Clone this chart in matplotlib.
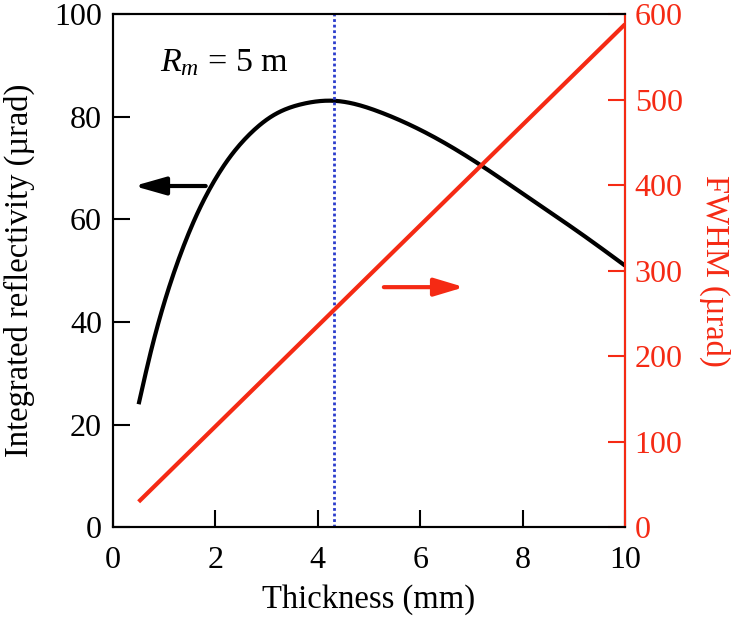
import matplotlib
matplotlib.use("Agg")
import matplotlib.pyplot as plt
import numpy as np

plt.rcParams['font.family'] = ['Liberation Serif', 'DejaVu Serif']
plt.rcParams['mathtext.fontset'] = 'custom'
plt.rcParams['mathtext.rm'] = 'Liberation Serif'
plt.rcParams['mathtext.it'] = 'Liberation Serif:italic'

# integrated reflectivity (left axis)
thick = [0.50, 0.72, 0.98, 1.31, 1.63, 1.92, 2.28, 2.67, 3.12, 3.71, 4.31,
         5.24, 6.22, 7.19, 8.15, 9.10, 10.0]
refl = [24.0, 33.5, 43.1, 53.0, 60.8, 66.5, 72.1, 76.6, 80.2, 82.5, 83.1,
        80.8, 76.3, 70.5, 64.0, 57.5, 51.0]

# FWHM (right axis)
thick_fw = [0.5, 10.0]
fwhm = [30, 588]

t_opt = 4.31
red = '#f52a14'
blue = '#2b3ccc'


def spline(x, y, xs):
    # natural cubic spline through the read points
    x = np.asarray(x, float)
    y = np.asarray(y, float)
    n = len(x)
    h = np.diff(x)
    A = np.zeros((n, n))
    b = np.zeros(n)
    A[0, 0] = A[-1, -1] = 1
    for i in range(1, n - 1):
        A[i, i - 1] = h[i - 1]
        A[i, i] = 2 * (h[i - 1] + h[i])
        A[i, i + 1] = h[i]
        b[i] = 6 * ((y[i + 1] - y[i]) / h[i] - (y[i] - y[i - 1]) / h[i - 1])
    M = np.linalg.solve(A, b)
    idx = np.clip(np.searchsorted(x, xs) - 1, 0, n - 2)
    x0, x1 = x[idx], x[idx + 1]
    hh = x1 - x0
    t0, t1 = x1 - xs, xs - x0
    return (M[idx] * t0 ** 3 / (6 * hh) + M[idx + 1] * t1 ** 3 / (6 * hh)
            + (y[idx] / hh - M[idx] * hh / 6) * t0
            + (y[idx + 1] / hh - M[idx + 1] * hh / 6) * t1)


fig = plt.figure(figsize=(7.34, 6.22), dpi=100)
ax = fig.add_axes([0.154, 0.152, 0.6975, 0.8255])
ax2 = ax.twinx()

xs = np.linspace(thick[0], thick[-1], 400)
ax.plot(xs, spline(thick, refl, xs), color='k', lw=3, solid_capstyle='butt')
ax.axvline(t_opt, color=blue, lw=2, ls=(0, (1, 1)))
ax2.plot(thick_fw, fwhm, color=red, lw=3, solid_capstyle='butt')

ax.set_xlim(0, 10)
ax.set_ylim(0, 100)
ax2.set_ylim(0, 600)
ax.set_xticks(range(0, 11, 2))
ax.set_yticks(range(0, 101, 20))
ax2.set_yticks(range(0, 601, 100))

ax.tick_params(axis='both', direction='in', length=12, width=1.5, labelsize=23)
ax.tick_params(axis='x', pad=13)
ax.tick_params(axis='y', pad=8, right=False)
ax2.tick_params(axis='y', direction='in', length=12, width=1.5, labelsize=23,
                colors=red, pad=7)

for s in ax.spines.values():
    s.set_linewidth(1.5)
for s in ax2.spines.values():
    s.set_linewidth(1.5)
ax2.spines['right'].set_color(red)

ax.set_xlabel('Thickness (mm)', fontsize=23.5, labelpad=7)
ax.set_ylabel('Integrated reflectivity (µrad)', fontsize=23.5, labelpad=14)
ax2.set_ylabel('FWHM (µrad)', fontsize=23.5, color=red, rotation=270, labelpad=34)

ax.text(0.92, 88.9, r'$R_m$ = 5 m', fontsize=24.5, va='baseline', ha='left')

ax.annotate('', xy=(0.41, 66.5), xytext=(1.81, 66.5),
            arrowprops=dict(arrowstyle='-|>,head_length=0.95,head_width=0.27',
                            mutation_scale=20, lw=3, color='k',
                            shrinkA=0, shrinkB=0))
ax.annotate('', xy=(6.86, 46.8), xytext=(5.29, 46.8),
            arrowprops=dict(arrowstyle='-|>,head_length=0.9,head_width=0.27',
                            mutation_scale=20, lw=3, color=red,
                            shrinkA=0, shrinkB=0))

fig.savefig('out.png', dpi=100)
